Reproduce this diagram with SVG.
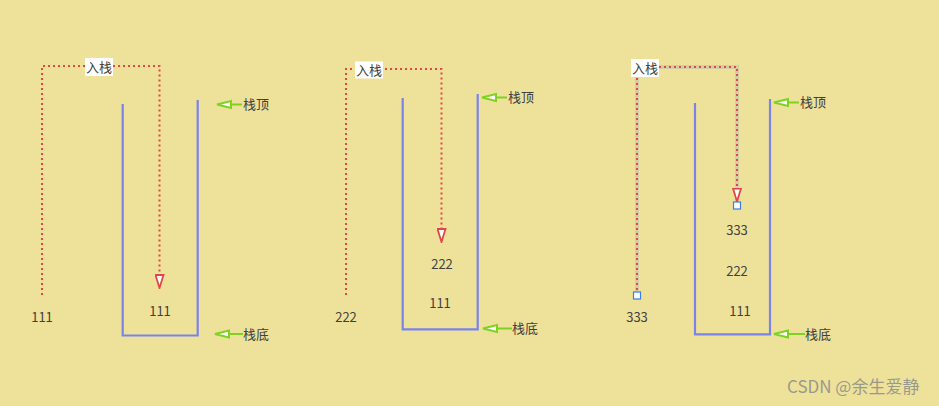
<svg xmlns="http://www.w3.org/2000/svg" width="939" height="406" viewBox="0 0 939 406">
<defs>
<marker id="redArrow" viewBox="0 0 15 10" refX="14" refY="5" markerWidth="15" markerHeight="10" markerUnits="userSpaceOnUse" orient="auto">
<path d="M1,1 L14,5 L1,9 Z" fill="#ffffff" stroke="#e04848" stroke-width="1.8" stroke-linejoin="miter"/>
</marker>
<style>
.stack{fill:none;stroke:#7b83eb;stroke-width:2.2}
.flow{fill:none;stroke:#e04848;stroke-width:2;stroke-dasharray:2 3}
.halo{fill:none;stroke:#c9c6a8;stroke-width:4;opacity:0.7}
.ptr{fill:none;stroke:#7ed321;stroke-width:2}
.head{fill:#ffffff;stroke:#7ed321;stroke-width:2}
.t{font-family:"Noto Sans CJK SC","Microsoft YaHei",sans-serif;font-size:13px;fill:#404040}
.lbl{fill:#ffffff}
.handle{fill:#ffffff;stroke:#3a7fe0;stroke-width:1.2}
.wm{font-family:"Noto Sans CJK SC",sans-serif;font-size:17px;fill:#9a9a8a}
</style>
</defs>
<rect width="939" height="406" fill="#eee29b"/>

<g id="connectors">
<path class="flow" d="M42,295 L42,66 L159.5,66 L159.5,288" marker-end="url(#redArrow)"/>
<path class="flow" d="M346,295 L346,69 L441.5,69 L441.5,242" marker-end="url(#redArrow)"/>
<path class="halo" d="M637,295 L637,67 L737,67 L737,201"/>
<path class="flow" d="M637,295 L637,67 L737,67 L737,201.5" marker-end="url(#redArrow)"/>
<line class="ptr" x1="242" y1="104.5" x2="232" y2="104.5"/>
<path class="head" d="M217,104.5 L231,101 L231,108 Z"/>
<line class="ptr" x1="243" y1="334" x2="230" y2="334"/>
<path class="head" d="M215,334 L229,330.5 L229,337.5 Z"/>
<line class="ptr" x1="507" y1="97.5" x2="497" y2="97.5"/>
<path class="head" d="M482,97.5 L496,94 L496,101 Z"/>
<line class="ptr" x1="512" y1="328.5" x2="498" y2="328.5"/>
<path class="head" d="M483,328.5 L497,325 L497,332 Z"/>
<line class="ptr" x1="799" y1="102.5" x2="789" y2="102.5"/>
<path class="head" d="M774,102.5 L788,99 L788,106 Z"/>
<line class="ptr" x1="805" y1="334" x2="789" y2="334"/>
<path class="head" d="M774,334 L788,330.5 L788,337.5 Z"/>
</g>

<g id="stack1">
<path class="stack" d="M122.7,104 L122.7,335.5 L197.7,335.5 L197.7,100"/>
<rect class="lbl" x="85" y="58" width="28" height="18"/>
<text class="t" x="99" y="72" text-anchor="middle">入栈</text>
<text class="t" x="42" y="322" text-anchor="middle">111</text>
<text class="t" x="160" y="316" text-anchor="middle">111</text>
<text class="t" x="243" y="109">栈顶</text>
<text class="t" x="243" y="339">栈底</text>
</g>

<g id="stack2">
<path class="stack" d="M402.7,98 L402.7,329.3 L477.7,329.3 L477.7,94"/>
<rect class="lbl" x="355" y="61.5" width="28" height="17"/>
<text class="t" x="369" y="75" text-anchor="middle">入栈</text>
<text class="t" x="346" y="322" text-anchor="middle">222</text>
<text class="t" x="442" y="269" text-anchor="middle">222</text>
<text class="t" x="440" y="308" text-anchor="middle">111</text>
<text class="t" x="508" y="102">栈顶</text>
<text class="t" x="512" y="333">栈底</text>
</g>

<g id="stack3">
<path class="stack" d="M695,103 L695,334.3 L770,334.3 L770,99"/>
<rect class="lbl" x="631" y="59" width="28" height="18"/>
<text class="t" x="645" y="73" text-anchor="middle">入栈</text>
<rect class="handle" x="633.5" y="292" width="7" height="7"/>
<rect class="handle" x="733.5" y="202" width="7" height="7"/>
<text class="t" x="637" y="322" text-anchor="middle">333</text>
<text class="t" x="737" y="235" text-anchor="middle">333</text>
<text class="t" x="737" y="276" text-anchor="middle">222</text>
<text class="t" x="740" y="316" text-anchor="middle">111</text>
<text class="t" x="800" y="107">栈顶</text>
<text class="t" x="805" y="339">栈底</text>
</g>

<text class="wm" x="787" y="393">CSDN @余生爱静</text>
</svg>
